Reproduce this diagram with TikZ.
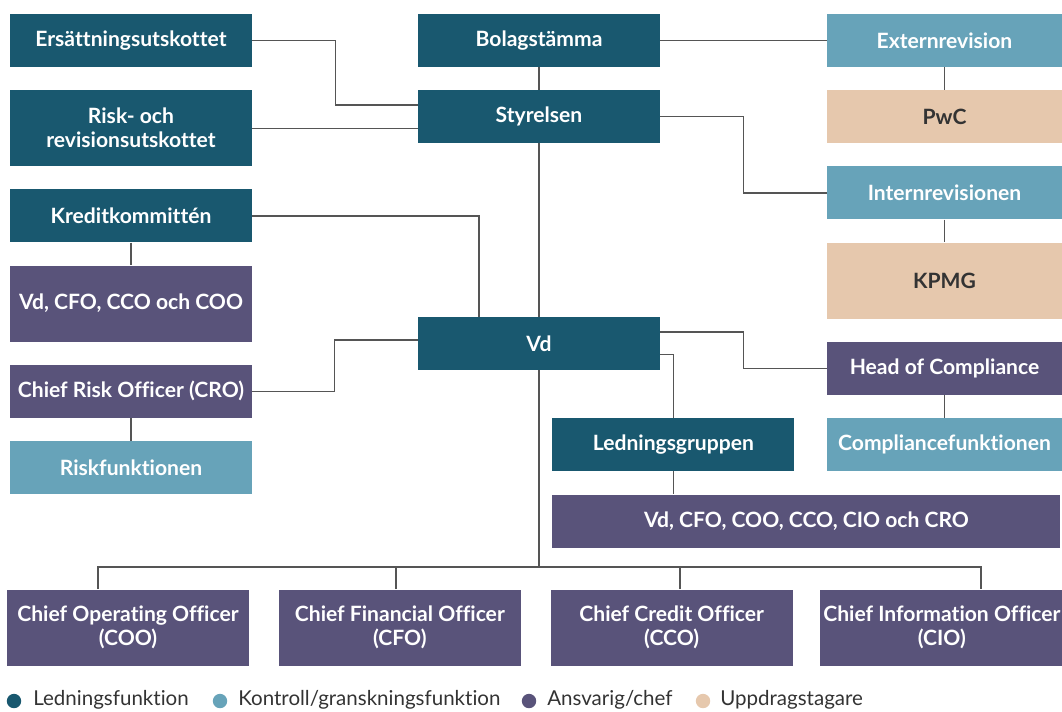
\documentclass[tikz,border=0pt]{standalone}
\usepackage{fontspec}
\setmainfont{Lato}[Ligatures=CommonOff]
\usepackage{xcolor}
\usepackage{tikz}
\usetikzlibrary{positioning}

\definecolor{lednc}{HTML}{19586F}
\definecolor{kontrc}{HTML}{67A3B9}
\definecolor{ansvc}{HTML}{59537A}
\definecolor{uppdc}{HTML}{E6C8AD}
\definecolor{linec}{HTML}{555555}
\definecolor{textc}{HTML}{333333}

\begin{document}
\begin{tikzpicture}[x=0.025cm, y=-0.025cm, node distance=0.565cm,
    block/.style={rectangle, minimum width=6.05cm, minimum height=1.325cm, inner sep=2pt, align=center, text=white, font=\bfseries\fontsize{15}{17}\selectfont},
    tall/.style={minimum height=1.9cm},
    smal/.style={minimum width=5.875cm},
    ledning/.style={block, fill=lednc},
    kontroll/.style={block, fill=kontrc},
    ansvarig/.style={block, fill=ansvc},
    uppdrag/.style={block, fill=uppdc, text=textc},
    dot/.style={circle, inner sep=0pt, minimum size=0.36cm},
    legend/.style={anchor=west, inner sep=0pt, text=textc, font=\fontsize{14.6}{16}\selectfont},
    line/.style={draw, linec, line width=0.9pt}]

    \useasboundingbox (0,0) rectangle (1062,711);

    % left column
    \node [ledning] (ersattning) at (131,40.5) {Ersättningsutskottet};
    \node [ledning, tall, below=of ersattning] (riskrev) {Risk- och\\revisionsutskottet};
    \node [ledning, below=of riskrev] (kredit) {Kreditkommittén};
    \node [ansvarig, tall, below=of kredit] (vdgrupp) {Vd, CFO, CCO och COO};
    \node [ansvarig, below=of vdgrupp] (cro) {Chief Risk Officer (CRO)};
    \node [kontroll, below=of cro] (riskfunk) {Riskfunktionen};

    % middle column
    \node [ledning] (bolag) at (539,40.5) {Bolagstämma};
    \node [ledning, below=of bolag] (styrelsen) {Styrelsen};
    \node [ledning] (vd) at (539,343.5) {Vd};

    % right column
    \node [kontroll, smal] (extern) at (944.5,40.5) {Externrevision};
    \node [uppdrag, smal, below=of extern] (pwc) {PwC};
    \node [kontroll, smal, below=of pwc] (intern) {Internrevisionen};
    \node [uppdrag, smal, tall, below=of intern] (kpmg) {KPMG};
    \node [ansvarig, smal, below=of kpmg] (compliance) {Head of Compliance};
    \node [kontroll, smal, below=of compliance] (compfunk) {Compliancefunktionen};
    \node [ledning, left=0.8cm of compfunk] (ledgrupp) {Ledningsgruppen};
    \node [ansvarig, minimum width=12.7cm, below right=0.575cm and 0cm of ledgrupp.south west] (ledmedl) {Vd, CFO, COO, CCO, CIO och CRO};

    % bottom row
    \node [ansvarig, tall] (coo) at (128,627.5) {Chief Operating Officer\\(COO)};
    \node [ansvarig, tall, right=0.73cm of coo] (cfo) {Chief Financial Officer\\(CFO)};
    \node [ansvarig, tall, right=0.73cm of cfo] (cco) {Chief Credit Officer\\(CCO)};
    \node [ansvarig, tall, right=0.68cm of cco] (cio) {Chief Information Officer\\(CIO)};

    % legend
    \node [dot, fill=lednc] (dled) at (14,701) {};
    \node [legend] (tled) at (33,700) {Ledningsfunktion};
    \node [dot, fill=kontrc] (dkon) at (220,701) {};
    \node [legend] (tkon) at (238,700) {Kontroll/granskningsfunktion};
    \node [dot, fill=ansvc] (dans) at (529,701) {};
    \node [legend] (tans) at (547,700) {Ansvarig/chef};
    \node [dot, fill=uppdc] (dupp) at (703,701) {};
    \node [legend] (tupp) at (720,700) {Uppdragstagare};

    \coordinate (bus) at (539,567);

    \path [line] (bolag) -- (styrelsen);
    \path [line] (styrelsen) -- (vd);
    \path [line] (ersattning.east) -- ++(83,0) |- ([yshift=0.29cm]styrelsen.west);
    \path [line] (riskrev.east) -- (riskrev.east -| styrelsen.west);
    \path [line] (kredit.east) -| (vd.north -| 479,0);
    \path [line] (kredit) -- (vdgrupp);
    \path [line] (cro.east) -- ++(82,0) |- ([yshift=0.09cm]vd.west);
    \path [line] (cro) -- (riskfunk);
    \path [line] (bolag) -- (extern);
    \path [line] (extern) -- (pwc);
    \path [line] (styrelsen.east) -- ++(83,0) |- (intern.west);
    \path [line] (intern) -- (kpmg);
    \path [line] ([yshift=0.29cm]vd.east) -- ++(83,0) |- (compliance.west);
    \path [line] ([yshift=-0.27cm]vd.east) -| (ledgrupp.north);
    \path [line] (compliance) -- (compfunk);
    \path [line] (ledgrupp.south) -- (ledgrupp.south |- ledmedl.north);
    \path [line] (vd.south) -- (bus);
    \path [line] (coo.north -| 98,0) |- (bus) -| (cio.north -| 981,0);
    \path [line] (cfo.north -| 396,0) -- (bus -| 396,0);
    \path [line] (cco.north -| 680,0) -- (bus -| 680,0);
\end{tikzpicture}
\end{document}
